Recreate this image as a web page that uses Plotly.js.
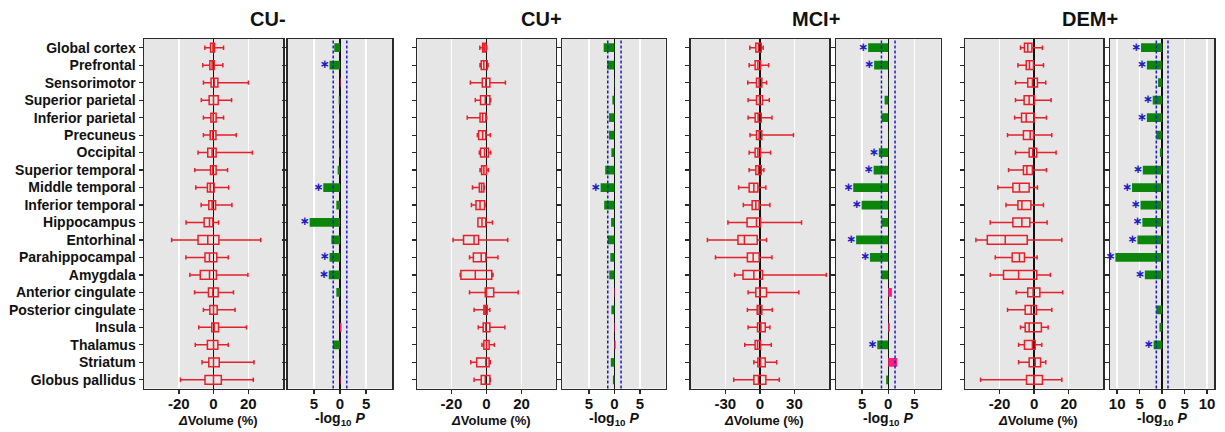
<!DOCTYPE html>
<html>
<head>
<meta charset="utf-8">
<script src="https://cdn.plot.ly/plotly-3.0.1.min.js"></script>
<style>html,body{margin:0;padding:0;background:#fff;}#chart{width:1225px;height:432px;}</style>
</head>
<body>
<div id="chart"></div>
<script>
// ---------- DATA ----------
const regions = ["Global cortex","Prefrontal","Sensorimotor","Superior parietal","Inferior parietal","Precuneus","Occipital","Superior temporal","Middle temporal","Inferior temporal","Hippocampus","Entorhinal","Parahippocampal","Amygdala","Anterior cingulate","Posterior cingulate","Insula","Thalamus","Striatum","Globus pallidus"];
const groups = ["CU-","CU+","MCI+","DEM+"];

// ΔVolume (%) box statistics per group
const cuNegLower  = [-5.0,-6.2,-5.8,-7.0,-5.8,-5.8,-8.9,-10.8,-10.2,-7.1,-15.8,-24.1,-15.9,-13.6,-10.9,-5.8,-8.5,-10.5,-6.6,-19.0];
const cuNegQ1     = [-1.7,-2.1,-1.4,-2.5,-1.5,-1.9,-3.3,-1.7,-3.5,-2.7,-5.4,-8.9,-4.9,-7.6,-2.9,-2.1,-1.0,-3.5,-2.7,-4.9];
const cuNegMedian = [-0.3,-0.8,0.4,0.0,-0.2,-0.4,-0.8,-0.4,-1.9,-0.8,-2.3,-3.3,-2.3,-2.3,-0.4,0.0,0.4,0.0,0.0,0.0];
const cuNegQ3     = [0.6,0.4,2.5,2.7,1.5,1.4,1.5,1.5,0.4,1.2,-0.4,3.1,1.9,1.7,2.7,2.1,2.9,2.5,3.3,4.5];
const cuNegUpper  = [5.8,5.4,20.1,10.4,5.8,13.1,22.4,8.1,8.7,10.6,2.9,27.2,8.5,19.8,11.5,12.4,19.0,8.5,23.3,22.9];

const cuPosLower  = [-3.8,-3.7,-9.2,-6.4,-11.0,-5.2,-4.1,-3.7,-8.0,-8.6,-4.9,-19.1,-9.7,-15.0,-9.7,-7.1,-4.7,-2.6,-9.0,-7.1];
const cuPosQ1     = [-2.2,-3.0,-2.4,-3.4,-3.7,-4.5,-3.4,-2.8,-4.1,-6.0,-4.9,-13.1,-7.5,-14.6,-0.7,-1.5,-1.9,-1.5,-5.6,-3.0];
const cuPosMedian = [-1.3,-1.5,-0.4,-0.7,-2.2,-2.2,-1.1,-1.5,-2.8,-3.7,-2.6,-7.1,-3.0,-6.4,0.0,-0.6,-0.4,0.0,-0.4,-0.7];
const cuPosQ3     = [-0.3,0.4,1.9,1.9,-0.4,-0.4,1.1,0.0,-1.5,-1.1,-0.4,-4.5,-0.4,3.0,4.1,0.4,1.9,1.5,1.5,1.9];
const cuPosUpper  = [0.2,0.9,10.8,2.4,0.1,2.2,2.4,1.1,-1.2,-0.8,3.4,12.1,6.5,3.7,18.1,1.9,10.5,4.5,2.2,2.2];

const mciLower  = [-8.7,-9.3,-10.5,-10.2,-10.2,-8.5,-9.3,-9.3,-18.4,-14.3,-27.7,-45.5,-38.5,-21.9,-10.2,-10.8,-10.2,-13.1,-5.2,-22.7];
const mciQ1     = [-3.5,-4.1,-2.9,-2.9,-4.1,-2.9,-4.1,-3.5,-9.3,-6.7,-11.1,-19.0,-10.8,-14.6,-3.5,-2.3,-2.0,-4.1,-1.7,-5.2];
const mciMedian = [-1.2,-1.7,-0.6,-0.3,-1.5,-0.6,-1.7,-1.2,-5.2,-3.5,-2.9,-13.4,-5.8,-5.2,0.0,-0.6,0.9,-2.0,0.6,-1.2];
const mciQ3     = [1.2,0.6,1.7,2.3,1.2,1.7,0.6,1.2,-1.7,-0.6,0.6,-2.3,-0.6,2.3,5.8,1.7,4.7,0.6,4.7,5.2];
const mciUpper  = [2.9,7.6,5.8,8.2,10.5,29.2,9.3,3.5,5.2,8.7,36.2,5.8,10.5,57.7,33.8,10.8,8.7,9.9,14.6,16.9];

const demLower  = [-7.9,-9.4,-10.8,-10.8,-11.3,-15.4,-10.8,-14.8,-21.0,-16.3,-25.4,-33.7,-22.5,-25.4,-10.4,-15.4,-7.9,-9.0,-9.0,-31.0];
const demQ1     = [-5.6,-4.6,-3.7,-5.8,-7.3,-6.2,-2.9,-6.2,-12.3,-9.4,-12.3,-27.1,-12.7,-17.7,-3.7,-5.2,-5.2,-5.6,-2.9,-4.4];
const demMedian = [-3.7,-2.7,-1.0,-2.9,-4.6,-2.3,-0.8,-4.2,-8.5,-7.1,-7.1,-16.7,-8.5,-9.0,-0.6,-1.7,-2.9,-1.0,0.6,0.0];
const demQ3     = [-1.3,-0.4,1.9,0.2,0.0,-0.4,1.5,-1.0,-2.9,-1.9,-2.5,-4.0,-5.6,1.5,3.3,1.3,4.2,0.6,3.7,4.8];
const demUpper  = [4.8,5.4,6.7,9.8,7.1,10.2,12.7,7.1,1.9,5.4,7.5,16.0,1.7,9.4,16.5,10.2,8.1,4.4,6.7,16.0];

// signed -log10 P (negative = volume loss)
const cuNegLogP = [-1.1,-2.0,0.1,-0.25,-0.1,-0.05,-0.2,-0.45,-3.2,-0.7,-5.8,-1.65,-2.0,-2.15,-0.7,-0.05,0.3,-1.35,-0.05,0.1];
const cuPosLogP = [-2.1,-1.4,-0.05,-0.4,-1.05,-1.05,-0.6,-1.8,-2.7,-2.0,-0.65,-1.3,-0.8,-1.0,0.1,-0.6,0.1,0.25,-0.7,-0.3];
const mciLogP   = [-3.85,-2.7,-0.05,-0.7,-1.3,-0.05,-1.8,-2.8,-6.7,-5.1,-1.3,-6.15,-3.5,-1.35,0.7,0.05,0.3,-2.1,1.7,-0.4];
const demLogP   = [-4.7,-3.4,-0.9,-2.1,-3.4,-1.3,-0.5,-4.3,-6.7,-4.8,-4.4,-5.5,-10.4,-3.85,-0.05,-1.3,-0.6,-1.9,0,0];

// significance flags (1 = starred)
const cuNegSig = [0,1,0,0,0,0,0,0,1,0,1,0,1,1,0,0,0,0,0,0];
const cuPosSig = [0,0,0,0,0,0,0,0,1,0,0,0,0,0,0,0,0,0,0,0];
const mciSig   = [1,1,0,0,0,0,1,1,1,1,0,1,1,0,0,0,0,1,0,0];
const demSig   = [1,1,0,1,1,0,0,1,1,1,1,1,1,1,0,0,0,1,0,0];

const pThreshold = 1.3; // -log10(0.05)

// ---------- STYLE / LAYOUT ----------
const W = 1225, H = 432;
const fx = p => p / W, fy = p => 1 - p / H;
const FONT = "Liberation Sans, Arial, Helvetica, sans-serif";
const RED = "#e5202a", GREEN = "#0b860b", PINK = "#ff1f7a", BLUE = "#1d1dc4", FRAME = "#2a2a2a";
const yDom = [fy(388.5), fy(39)];

const stats = [
  [cuNegLower, cuNegQ1, cuNegMedian, cuNegQ3, cuNegUpper],
  [cuPosLower, cuPosQ1, cuPosMedian, cuPosQ3, cuPosUpper],
  [mciLower, mciQ1, mciMedian, mciQ3, mciUpper],
  [demLower, demQ1, demMedian, demQ3, demUpper]
];
const logP = [cuNegLogP, cuPosLogP, mciLogP, demLogP];
const sig = [cuNegSig, cuPosSig, mciSig, demSig];

const panels = [
  {box:[144,283],   bar:[287.7,392.3], bRange:[-40,40], bTicks:[-20,0,20], pRange:[-10,10],   pTicks:[-5,0,5]},
  {box:[417.3,555.7], bar:[562.3,665.5], bRange:[-39.5,39.5], bTicks:[-20,0,20], pRange:[-10.2,10], pTicks:[-5,0,5]},
  {box:[690.7,829], bar:[836,940.5],   bRange:[-60,60], bTicks:[-30,0,30], pRange:[-10,10],   pTicks:[-5,0,5]},
  {box:[965,1103.3], bar:[1110,1214.3], bRange:[-40,40], bTicks:[-20,0,20], pRange:[-11.6,11.6], pTicks:[-10,-5,0,5,10]}
];

const traces = [];
const layout = {
  width: W, height: H,
  margin: {l:0, r:0, t:0, b:0},
  paper_bgcolor: "#ffffff",
  plot_bgcolor: "#e6e6e6",
  showlegend: false,
  font: {family: FONT, color: "#111"},
  shapes: [], annotations: []
};

function xAxisCfg(dom, range, ticks, absLabels) {
  return {
    domain: [fx(dom[0]), fx(dom[1])], range: range, fixedrange: true,
    tickmode: "array", tickvals: ticks,
    ticktext: ticks.map(t => absLabels ? String(Math.abs(t)) : (t < 0 ? "-" + Math.abs(t) : String(t))),
    tickfont: {size: 15, family: FONT, color: "#111", weight: "bold"},
    ticks: "outside", ticklen: 4, tickwidth: 1.5, tickcolor: FRAME,
    ticklabelstandoff: -3,
    showgrid: true, gridcolor: "#ffffff", gridwidth: 1.5,
    zeroline: true, zerolinecolor: "#111", zerolinewidth: 1.5,
    showline: true, mirror: true, linecolor: FRAME, linewidth: 1.5
  };
}
function yAxisCfg(anchor, showLabels) {
  return {
    domain: yDom, anchor: anchor, type: "category",
    categoryorder: "array", categoryarray: regions,
    range: [regions.length - 0.5, -0.5], fixedrange: true,
    showticklabels: showLabels,
    tickfont: {size: 14, family: FONT, color: "#111", weight: "bold"},
    ticks: "outside", ticklen: 4, tickwidth: 1.2, tickcolor: FRAME,
    showgrid: false, zeroline: false,
    showline: true, mirror: true, linecolor: FRAME, linewidth: 1.5
  };
}

panels.forEach((p, i) => {
  const bx = 2 * i + 1, px = 2 * i + 2;
  const xb = "x" + (bx === 1 ? "" : bx), yb = "y" + (bx === 1 ? "" : bx);
  const xp = "x" + px, yp = "y" + px;
  layout["xaxis" + (bx === 1 ? "" : bx)] = Object.assign(xAxisCfg(p.box, p.bRange, p.bTicks, false), {anchor: yb});
  layout["yaxis" + (bx === 1 ? "" : bx)] = yAxisCfg(xb, i === 0);
  layout["xaxis" + px] = Object.assign(xAxisCfg(p.bar, p.pRange, p.pTicks, true), {anchor: yp});
  layout["yaxis" + px] = yAxisCfg(xp, false);

  const s = stats[i];
  traces.push({
    type: "box", orientation: "h", y: regions,
    lowerfence: s[0], q1: s[1], median: s[2], q3: s[3], upperfence: s[4],
    xaxis: xb, yaxis: yb,
    line: {color: RED, width: 1.5}, fillcolor: "rgba(0,0,0,0)",
    width: 0.5, whiskerwidth: 0.5, boxpoints: false, hoverinfo: "skip"
  });
  traces.push({
    type: "bar", orientation: "h", y: regions, x: logP[i],
    xaxis: xp, yaxis: yp, width: 0.5,
    marker: {color: logP[i].map(v => v < 0 ? GREEN : PINK), line: {width: 0}},
    hoverinfo: "skip"
  });
  const sx = [], sy = [];
  sig[i].forEach((f, k) => { if (f) { sx.push(logP[i][k]); sy.push(regions[k]); } });
  traces.push({
    type: "scatter", mode: "text", x: sx, y: sy, text: sx.map(() => "∗"),
    textposition: "middle left", cliponaxis: false,
    textfont: {size: 12, color: BLUE, family: "DejaVu Sans", weight: "bold"},
    xaxis: xp, yaxis: yp, hoverinfo: "skip"
  });
  [-pThreshold, pThreshold].forEach(v => layout.shapes.push({
    type: "line", xref: xp, yref: yp + " domain", x0: v, x1: v, y0: 0, y1: 1,
    line: {color: BLUE, width: 1.5, dash: "3px,2px"}
  }));

  layout.annotations.push({
    text: "<b>" + groups[i] + "</b>", xref: "paper", yref: "paper",
    x: fx((p.box[0] + p.bar[1]) / 2), y: fy(19), xanchor: "center", yanchor: "middle",
    showarrow: false, font: {size: 20, family: FONT, color: "#111"}
  });
  layout.annotations.push({
    text: "<b><i>Δ</i>Volume (%)</b>", xref: "paper", yref: "paper",
    x: fx((p.box[0] + p.box[1]) / 2 + 4), y: fy(420), xanchor: "center", yanchor: "middle",
    showarrow: false, font: {size: 13, family: FONT, color: "#111"}
  });
  layout.annotations.push({
    text: "<b>-log<sub>10</sub> <i>P</i></b>", xref: "paper", yref: "paper",
    x: fx((p.bar[0] + p.bar[1]) / 2), y: fy(419), xanchor: "center", yanchor: "middle",
    showarrow: false, font: {size: 14, family: FONT, color: "#111"}
  });
});

Plotly.newPlot("chart", traces, layout, {displayModeBar: false, staticPlot: true});
</script>
</body>
</html>
